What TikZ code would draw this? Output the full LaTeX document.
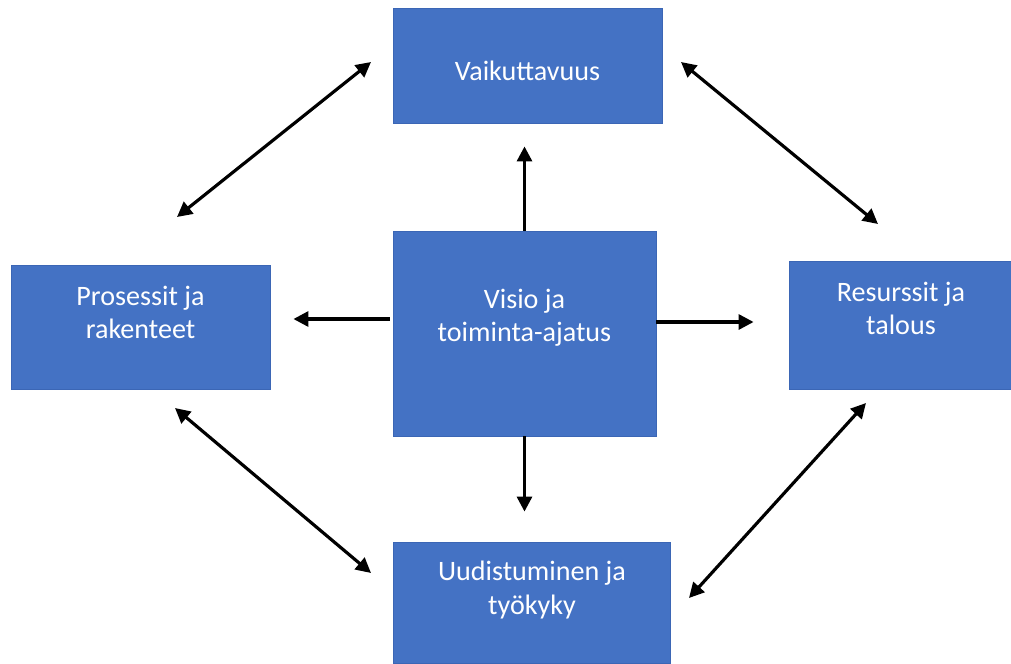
\documentclass[tikz,border=0pt]{standalone}
\usepackage{fontspec}
\setmainfont{Carlito}
\usetikzlibrary{arrows.meta}
\usetikzlibrary{calc}
\tikzset{themeBox/.style={fill=boxBlue, draw=boxEdge, line width=0.5pt, inner sep=0pt}}
\tikzset{boxText/.style={text=white, align=center, font=\fontsize{16}{18.8}\selectfont}}
\tikzset{link/.style={line width=1.8pt, >={Triangle[length=0.3cm,width=0.3cm]}}}
\definecolor{boxBlue}{HTML}{4472C4}
\definecolor{boxEdge}{HTML}{3B66B5}

\begin{document}
\begin{tikzpicture}[x=0.02cm,y=-0.02cm]
\useasboundingbox (0,0) rectangle (1011,663);

% boxes
\node[themeBox,minimum width=269*0.02cm,minimum height=115*0.02cm] (vaik) at (527.5,65.5) {};
\node[themeBox,minimum width=263*0.02cm,minimum height=205*0.02cm] (visio) at (524.5,333.5) {};
\node[themeBox,minimum width=259*0.02cm,minimum height=124*0.02cm] (pros) at (140.5,327) {};
\node[themeBox,minimum width=222*0.02cm,minimum height=128*0.02cm] (res) at (900,325) {};
\node[themeBox,minimum width=277*0.02cm,minimum height=121*0.02cm] (uud) at (531.5,602.5) {};

% texts
\node[boxText] (vaikText) at (527.5,71) {Vaikuttavuus};
\node[boxText] (visioText) at (524.5,318) {Visio ja\\toiminta-ajatus};
\node[boxText] (prosText) at (140.5,312) {Prosessit ja\\rakenteet};
\node[boxText] (resText) at (901,308) {Resurssit ja\\talous};
\node[boxText] (uudText) at (532,590) {Uudistuminen ja\\työkyky};

% from the centre
\draw[link,->,shorten >=0.46cm] (visio.north) -- (visio.north |- vaik.south);
\draw[link,->,shorten <=0.06cm,shorten >=0.46cm] ([yshift=0.29cm]visio.west) -- ([yshift=0.29cm]visio.west -| pros.east);
\draw[link,->,shorten >=0.7cm] ([yshift=0.23cm]visio.east) -- ([yshift=0.23cm]visio.east -| res.west);
\draw[link,->,shorten >=0.6cm] (visio.south) -- (visio.south |- uud.north);

% around
\coordinate (pvA) at (177,217);
\coordinate (pvB) at (371,62);
\coordinate (vrA) at (681,62);
\coordinate (vrB) at (878,224);
\coordinate (puA) at (175,408);
\coordinate (puB) at (371,573);
\coordinate (ruA) at (866,403);
\coordinate (ruB) at (689,598);
\draw[link,<->] (pvA) -- (pvB);
\draw[link,<->] (vrA) -- (vrB);
\draw[link,<->] (puA) -- (puB);
\draw[link,<->] (ruA) -- (ruB);
\end{tikzpicture}
\end{document}
